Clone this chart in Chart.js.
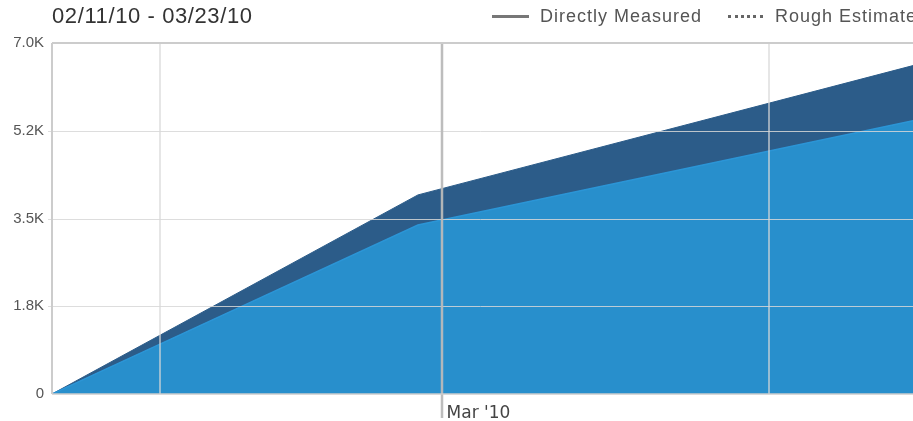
<!DOCTYPE html>
<html>
<head>
<meta charset="utf-8">
<script src="https://cdn.jsdelivr.net/npm/chart.js@4"></script>
<style>
  html, body { margin: 0; padding: 0; background: #fff; overflow: hidden; }
  #wrap { position: relative; width: 913px; height: 421px; }
  #chart { position: absolute; left: 0; top: 0; }
  .hdr { position: absolute; font-family: "Liberation Sans", Arial, sans-serif; white-space: nowrap; }
  #title { left: 52px; top: 3px; font-size: 22px; color: #333; letter-spacing: 0.6px; }
  .leg { top: 6px; font-size: 18px; color: #555; letter-spacing: 1px; display: flex; align-items: center; }
  .sw { display: inline-block; height: 0; }
  #leg1 { left: 492px; }
  #leg2 { left: 728px; }
  #leg1 .sw { width: 37px; border-top: 3px solid #777; margin-right: 11px; }
  #leg2 .sw { width: 35px; border-top: 3px dotted #666; margin-right: 12px; }
</style>
</head>
<body>
<div id="wrap">
  <canvas id="chart" width="913" height="421"></canvas>
  <div id="title" class="hdr">02/11/10 - 03/23/10</div>
  <div id="leg1" class="hdr leg"><span class="sw"></span>Directly Measured</div>
  <div id="leg2" class="hdr leg"><span class="sw"></span>Rough Estimate</div>
</div>
<script>
// Days since 02/11/10
const days = [0, 17, 40];
// Lower (light blue) series
const directlyMeasured = [0, 3370, 5450];
// Upper (dark blue) stacked series
const roughEstimate = [0, 600, 1100];

const yTicks = [0, 1750, 3500, 5250, 7000];
const yTickLabels = ['0', '1.8K', '3.5K', '5.2K', '7.0K'];
const xGridDays = [5, 18.1, 33.3];
const xTickLabels = ['', "Mar '10", ''];

const gridOverlay = {
  id: 'gridOverlay',
  afterDatasetsDraw(chart) {
    const { ctx, chartArea: a, scales } = chart;
    const xs = scales.x, ys = scales.y;
    ctx.save();
    yTicks.forEach(v => {
      if (v === 0 || v === 7000) return;
      const y = Math.round(ys.getPixelForValue(v)) + 0.5;
      ctx.strokeStyle = 'rgba(215,215,215,0.85)';
      ctx.lineWidth = 1;
      ctx.beginPath(); ctx.moveTo(a.left - 4, y); ctx.lineTo(a.right, y); ctx.stroke();
    });
    xGridDays.forEach((d, i) => {
      const x = Math.round(xs.getPixelForValue(d));
      const major = xTickLabels[i] !== '';
      ctx.strokeStyle = major ? 'rgba(185,185,185,0.95)' : 'rgba(215,215,215,0.85)';
      ctx.lineWidth = major ? 2.5 : 1.5;
      ctx.beginPath(); ctx.moveTo(x, a.top); ctx.lineTo(x, major ? a.bottom + 24 : a.bottom); ctx.stroke();
    });
    ctx.strokeStyle = '#cccccc';
    ctx.lineWidth = 2;
    ctx.beginPath(); ctx.moveTo(a.left, a.top); ctx.lineTo(a.right, a.top); ctx.stroke();
    ctx.beginPath(); ctx.moveTo(a.left, a.top); ctx.lineTo(a.left, a.bottom); ctx.stroke();
    ctx.lineWidth = 1.5;
    ctx.beginPath(); ctx.moveTo(a.left, a.bottom); ctx.lineTo(a.right, a.bottom); ctx.stroke();
    ctx.restore();
  }
};

new Chart(document.getElementById('chart'), {
  type: 'line',
  data: {
    datasets: [
      {
        label: 'Directly Measured',
        data: days.map((d, i) => ({ x: d, y: directlyMeasured[i] })),
        backgroundColor: '#288fcc',
        borderColor: '#2b95d6',
        borderWidth: 1.5,
        fill: 'origin',
        pointRadius: 0,
        tension: 0
      },
      {
        label: 'Rough Estimate',
        data: days.map((d, i) => ({ x: d, y: roughEstimate[i] })),
        backgroundColor: '#2c5c89',
        borderColor: '#2c5c89',
        borderWidth: 1,
        fill: '-1',
        pointRadius: 0,
        tension: 0
      }
    ]
  },
  options: {
    responsive: false,
    animation: false,
    devicePixelRatio: 1,
    layout: { padding: { top: 43, left: 0, right: 0, bottom: 0 } },
    plugins: { legend: { display: false }, title: { display: false }, tooltip: { enabled: false } },
    scales: {
      x: {
        type: 'linear',
        min: 0,
        max: 40,
        grid: { display: false, drawTicks: false },
        border: { display: false },
        afterBuildTicks: s => { s.ticks = xGridDays.map(v => ({ value: v })); },
        afterFit: s => { s.height = 27; },
        ticks: {
          autoSkip: false,
          maxRotation: 0,
          align: 'start',
          labelOffset: 5,
          padding: 9,
          color: '#444',
          font: { family: 'DejaVu Sans, sans-serif', size: 17 },
          callback: (v, i) => xTickLabels[i]
        }
      },
      y: {
        stacked: true,
        min: 0,
        max: 7000,
        grid: { display: false, drawTicks: false },
        border: { display: false },
        afterBuildTicks: s => { s.ticks = yTicks.map(v => ({ value: v })); },
        afterFit: s => { s.width = 52; },
        ticks: {
          padding: 8,
          color: '#555',
          font: { family: 'Liberation Sans, Arial, sans-serif', size: 15 },
          callback: (v, i) => yTickLabels[i]
        }
      }
    }
  },
  plugins: [gridOverlay]
});
</script>
</body>
</html>
